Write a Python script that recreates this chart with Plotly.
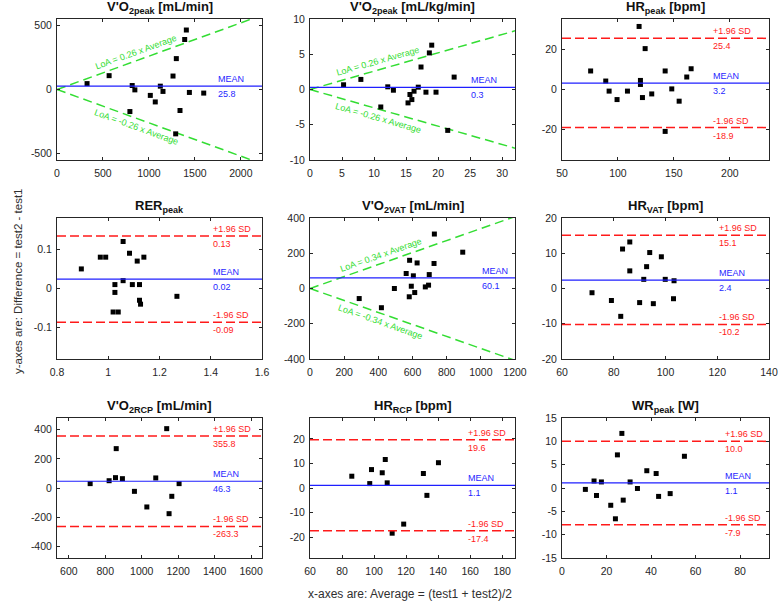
import math
import plotly.graph_objects as go

W, H = 778, 608

# ---------------- data ----------------
titles = ["V'O<sub>2peak</sub> [mL/min]", "V'O<sub>2peak</sub> [mL/kg/min]", "HR<sub>peak</sub> [bpm]",
          "RER<sub>peak</sub>", "V'O<sub>2VAT</sub> [mL/min]", "HR<sub>VAT</sub> [bpm]",
          "V'O<sub>2RCP</sub> [mL/min]", "HR<sub>RCP</sub> [bpm]", "WR<sub>peak</sub> [W]"]

vo2peak_avg = [327, 567, 793, 818, 847, 1015, 1069, 1124, 1153, 1262, 1298, 1338, 1291, 1389, 1407, 1440, 1596]
vo2peak_diff = [46, 108, -172, 31, -3, -46, -97, 26, -15, 105, 241, -164, -346, 390, 464, -23, -28]

vo2kg_avg = [5.24, 7.94, 11.05, 12.14, 13.02, 15.3, 15.6, 15.9, 16.24, 16.9, 17.33, 18.1, 18.63, 19.0, 19.67, 21.5, 22.5]
vo2kg_diff = [0.67, 1.43, -2.48, 0.38, -0.1, -1.9, -0.71, -1.43, -0.24, 0.33, 3.19, -0.38, 5.19, 6.29, -0.38, -5.8, 1.76]

hrpeak_avg = [75.6, 89.1, 92.1, 99.2, 108.5, 118.9, 120.1, 120.1, 121.9, 124.3, 130.2, 142.2, 142.2, 148.1, 154.7, 161.5, 165.4]
hrpeak_diff = [9.2, 4.2, -0.8, -5, -0.8, 31.3, 4.5, 2.5, -4, 20.3, -2.2, 9.2, -20.8, 0.3, -5.8, 6.2, 10.3]

rer_avg = [0.895, 0.969, 0.990, 1.019, 1.026, 1.026, 1.039, 1.058, 1.058, 1.083, 1.094, 1.113, 1.122, 1.122, 1.126, 1.139, 1.268]
rer_diff = [0.05, 0.08, 0.08, -0.06, 0.01, -0.01, -0.06, 0.12, 0.02, 0.09, 0.01, 0.07, 0.01, -0.03, -0.04, 0.08, -0.02]

vo2vat_avg = [288, 418, 494, 563, 581, 583, 593, 605, 613, 627, 675, 694, 698, 726, 728, 894]
vo2vat_diff = [-57, -109, 0, 85, -47, 160, 13, 72, -23, 145, 9, 19, 79, 142, 309, 206]

hrvat_avg = [71.6, 79.1, 82.7, 83.4, 86.2, 86.2, 90.0, 91.6, 92.7, 93.9, 95.3, 98.4, 99.9, 103.1, 103.3]
hrvat_diff = [-1.2, -3.4, -7.9, 11.2, 13.2, 5.0, -4.0, 2.6, 6.2, 10.2, -4.3, 9.0, 2.6, -2.9, 2.2]

vo2rcp_avg = [717, 821, 856, 860, 894, 960, 1028, 1077, 1137, 1150, 1165, 1205]
vo2rcp_diff = [30, 50, 71, 270, 64, -23, -130, 69, 407, -176, -57, 30]

hrrcp_avg = [86.1, 97.3, 98.4, 105.1, 107.0, 108.2, 111.3, 118.5, 130.8, 133.0, 140.2]
hrrcp_diff = [4.8, 1.8, 7.5, 6.2, 11.6, 2.1, -18.4, -14.7, 5.9, -3.0, 10.3]

wr_avg = [10.5, 14.4, 15.5, 17.7, 21.9, 24.0, 24.9, 26.9, 27.5, 30.6, 33.9, 38.1, 42.3, 43.4, 48.6, 55.0]
wr_diff = [-0.3, 1.5, -1.6, 1.3, -3.7, -6.6, 7.1, 11.7, -2.6, 1.3, -0.1, 3.7, 3.1, -1.8, -1.2, 6.8]

averages = [vo2peak_avg, vo2kg_avg, hrpeak_avg, rer_avg, vo2vat_avg, hrvat_avg, vo2rcp_avg, hrrcp_avg, wr_avg]
differences = [vo2peak_diff, vo2kg_diff, hrpeak_diff, rer_diff, vo2vat_diff, hrvat_diff, vo2rcp_diff, hrrcp_diff, wr_diff]

mean_vals = [25.8, 0.3, 3.2, 0.024, 60.1, 2.4, 46.3, 1.1, 1.1]
upper_sd = [None, None, 25.4, 0.134, None, 15.1, 355.8, 19.6, 10.0]
lower_sd = [None, None, -18.9, -0.086, None, -10.2, -263.3, -17.4, -7.9]
loa_coef = [0.26, 0.26, None, None, 0.34, None, None, None, None]
decimals = [1, 1, 1, 2, 1, 1, 1, 1, 1]

x_ticks = [[0, 500, 1000, 1500, 2000], [0, 5, 10, 15, 20, 25, 30], [50, 100, 150, 200],
           [0.8, 1, 1.2, 1.4, 1.6], [0, 200, 400, 600, 800, 1000, 1200], [60, 80, 100, 120, 140],
           [600, 800, 1000, 1200, 1400, 1600], [60, 80, 100, 120, 140, 160, 180], [0, 20, 40, 60, 80]]
y_ticks = [[-500, 0, 500], [-10, -5, 0, 5, 10], [-20, 0, 20],
           [-0.1, 0, 0.1], [-400, -200, 0, 200, 400], [-20, -10, 0, 10, 20],
           [-400, -200, 0, 200, 400], [-20, -10, 0, 10, 20], [-15, -10, -5, 0, 5, 10, 15]]

y_label = "y-axes are: Difference = test2 - test1"
x_label = "x-axes are: Average = (test1 + test2)/2"

# ---------------- layout / style ----------------
x_ranges = [[0, 2230], [0, 32], [50, 235], [0.8, 1.6], [0, 1200], [60, 140], [535, 1660], [60, 188], [0, 93]]
y_ranges = [[-550, 550], [-10, 10], [-35, 35], [-0.18, 0.18], [-400, 400], [-20, 20], [-480, 480], [-28.5, 28.5], [-15, 15]]
col_px = [(57, 262), (310, 515), (562, 769)]
row_px = [(19, 160), (218, 359), (418, 558)]
label_frac = [0.776, 0.777, 0.718, 0.75, 0.829, 0.747, 0.75, 0.76, 0.776]
loa_text_frac = [0.40, 0.345, None, None, 0.358, None, None, None, None]

FONT = "Liberation Sans, Arial, sans-serif"
AX = "#262626"
RED = "#ff1a1a"
BLUE = "#1f1fff"
GREEN = "#33dd33"

fig = go.Figure()
annotations = []
shapes = []


def tstr(v):
    return f"{v:g}"


for i in range(9):
    r, c = divmod(i, 3)
    n = "" if i == 0 else str(i + 1)
    xa, ya = "x" + n, "y" + n
    x0p, x1p = col_px[c]
    y0p, y1p = row_px[r]
    xdom = [x0p / W, x1p / W]
    ydom = [1 - y1p / H, 1 - y0p / H]
    common = dict(showline=True, mirror="ticks", linecolor=AX, linewidth=1, automargin=False,
                  ticks="inside", ticklen=3, tickcolor=AX, showgrid=False, zeroline=False,
                  tickfont=dict(family=FONT, size=10.5, color=AX))
    fig.update_layout(**{
        "xaxis" + n: dict(domain=xdom, range=x_ranges[i], anchor=ya, tickvals=x_ticks[i],
                          ticktext=[tstr(v) for v in x_ticks[i]], ticklabelstandoff=3, **common),
        "yaxis" + n: dict(domain=ydom, range=y_ranges[i], anchor=xa, tickvals=y_ticks[i],
                          ticktext=[tstr(v) for v in y_ticks[i]], ticklabelstandoff=2, **common),
    })

    # LoA proportional lines
    if loa_coef[i] is not None:
        k = loa_coef[i]
        xs = [0, x_ranges[i][1]]
        for sgn in (1, -1):
            fig.add_trace(go.Scatter(x=xs, y=[sgn * k * v for v in xs], mode="lines",
                                     line=dict(color=GREEN, width=1.5, dash="9px,5px"),
                                     xaxis=xa, yaxis=ya, showlegend=False, hoverinfo="skip"))
        pxx = (x1p - x0p) / (x_ranges[i][1] - x_ranges[i][0])
        pxy = (y1p - y0p) / (y_ranges[i][1] - y_ranges[i][0])
        ang = math.atan(k * pxy / pxx)
        d = 8.5
        xt = x_ranges[i][0] + loa_text_frac[i] * (x_ranges[i][1] - x_ranges[i][0])
        for sgn in (1, -1):
            txt = f"LoA = {k:.2f} x Average" if sgn > 0 else f"LoA = -{k:.2f} x Average"
            annotations.append(dict(x=xt, y=sgn * k * xt, xref=xa, yref=ya, text=txt, showarrow=False,
                                    textangle=-sgn * math.degrees(ang),
                                    xshift=-d * math.sin(ang), yshift=sgn * d * math.cos(ang),
                                    font=dict(family=FONT, size=9, color=GREEN)))

    # SD lines
    for val, lab in ((upper_sd[i], "+1.96 SD"), (lower_sd[i], "-1.96 SD")):
        if val is None:
            continue
        shapes.append(dict(type="line", xref=xa + " domain", yref=ya, x0=0, x1=1, y0=val, y1=val,
                           line=dict(color=RED, width=1.5, dash="9px,4px")))
        annotations.append(dict(x=label_frac[i], y=val, xref=xa + " domain", yref=ya, text=lab,
                                showarrow=False, xanchor="left", yshift=7,
                                font=dict(family=FONT, size=9, color=RED)))
        annotations.append(dict(x=label_frac[i], y=val, xref=xa + " domain", yref=ya,
                                text=f"{val:.{decimals[i]}f}", showarrow=False, xanchor="left",
                                yshift=-8, font=dict(family=FONT, size=9, color=RED)))

    # mean line
    m = mean_vals[i]
    shapes.append(dict(type="line", xref=xa + " domain", yref=ya, x0=0, x1=1, y0=m, y1=m,
                       line=dict(color=BLUE, width=1.2)))
    annotations.append(dict(x=label_frac[i], y=m, xref=xa + " domain", yref=ya, text="MEAN",
                            showarrow=False, xanchor="left", yshift=7,
                            font=dict(family=FONT, size=9, color=BLUE)))
    annotations.append(dict(x=label_frac[i], y=m, xref=xa + " domain", yref=ya,
                            text=f"{m:.{decimals[i]}f}", showarrow=False, xanchor="left", yshift=-8,
                            font=dict(family=FONT, size=9, color=BLUE)))

    # points
    fig.add_trace(go.Scatter(x=averages[i], y=differences[i], mode="markers",
                             marker=dict(symbol="square", size=5, color="black"),
                             xaxis=xa, yaxis=ya, showlegend=False))

    # title
    annotations.append(dict(x=0.5, y=1, xref=xa + " domain", yref=ya + " domain", text=titles[i],
                            showarrow=False, yanchor="bottom", yshift=1,
                            font=dict(family=FONT, size=13, color="#111111", weight="bold")))

annotations.append(dict(x=10 / W, y=1 - 282 / H, xref="paper", yref="paper", text=y_label,
                        showarrow=False, textangle=-90,
                        font=dict(family=FONT, size=11.5, color="#303030")))
annotations.append(dict(x=410 / W, y=1 - 594 / H, xref="paper", yref="paper", text=x_label,
                        showarrow=False, yanchor="middle",
                        font=dict(family=FONT, size=12, color="#303030")))

fig.update_layout(width=W, height=H, margin=dict(l=0, r=0, t=0, b=0),
                  paper_bgcolor="white", plot_bgcolor="white",
                  annotations=annotations, shapes=shapes, showlegend=False)

fig.write_html("out.html", config={"displayModeBar": False},
               post_script="document.body.style.margin='0';document.body.style.padding='0';")
